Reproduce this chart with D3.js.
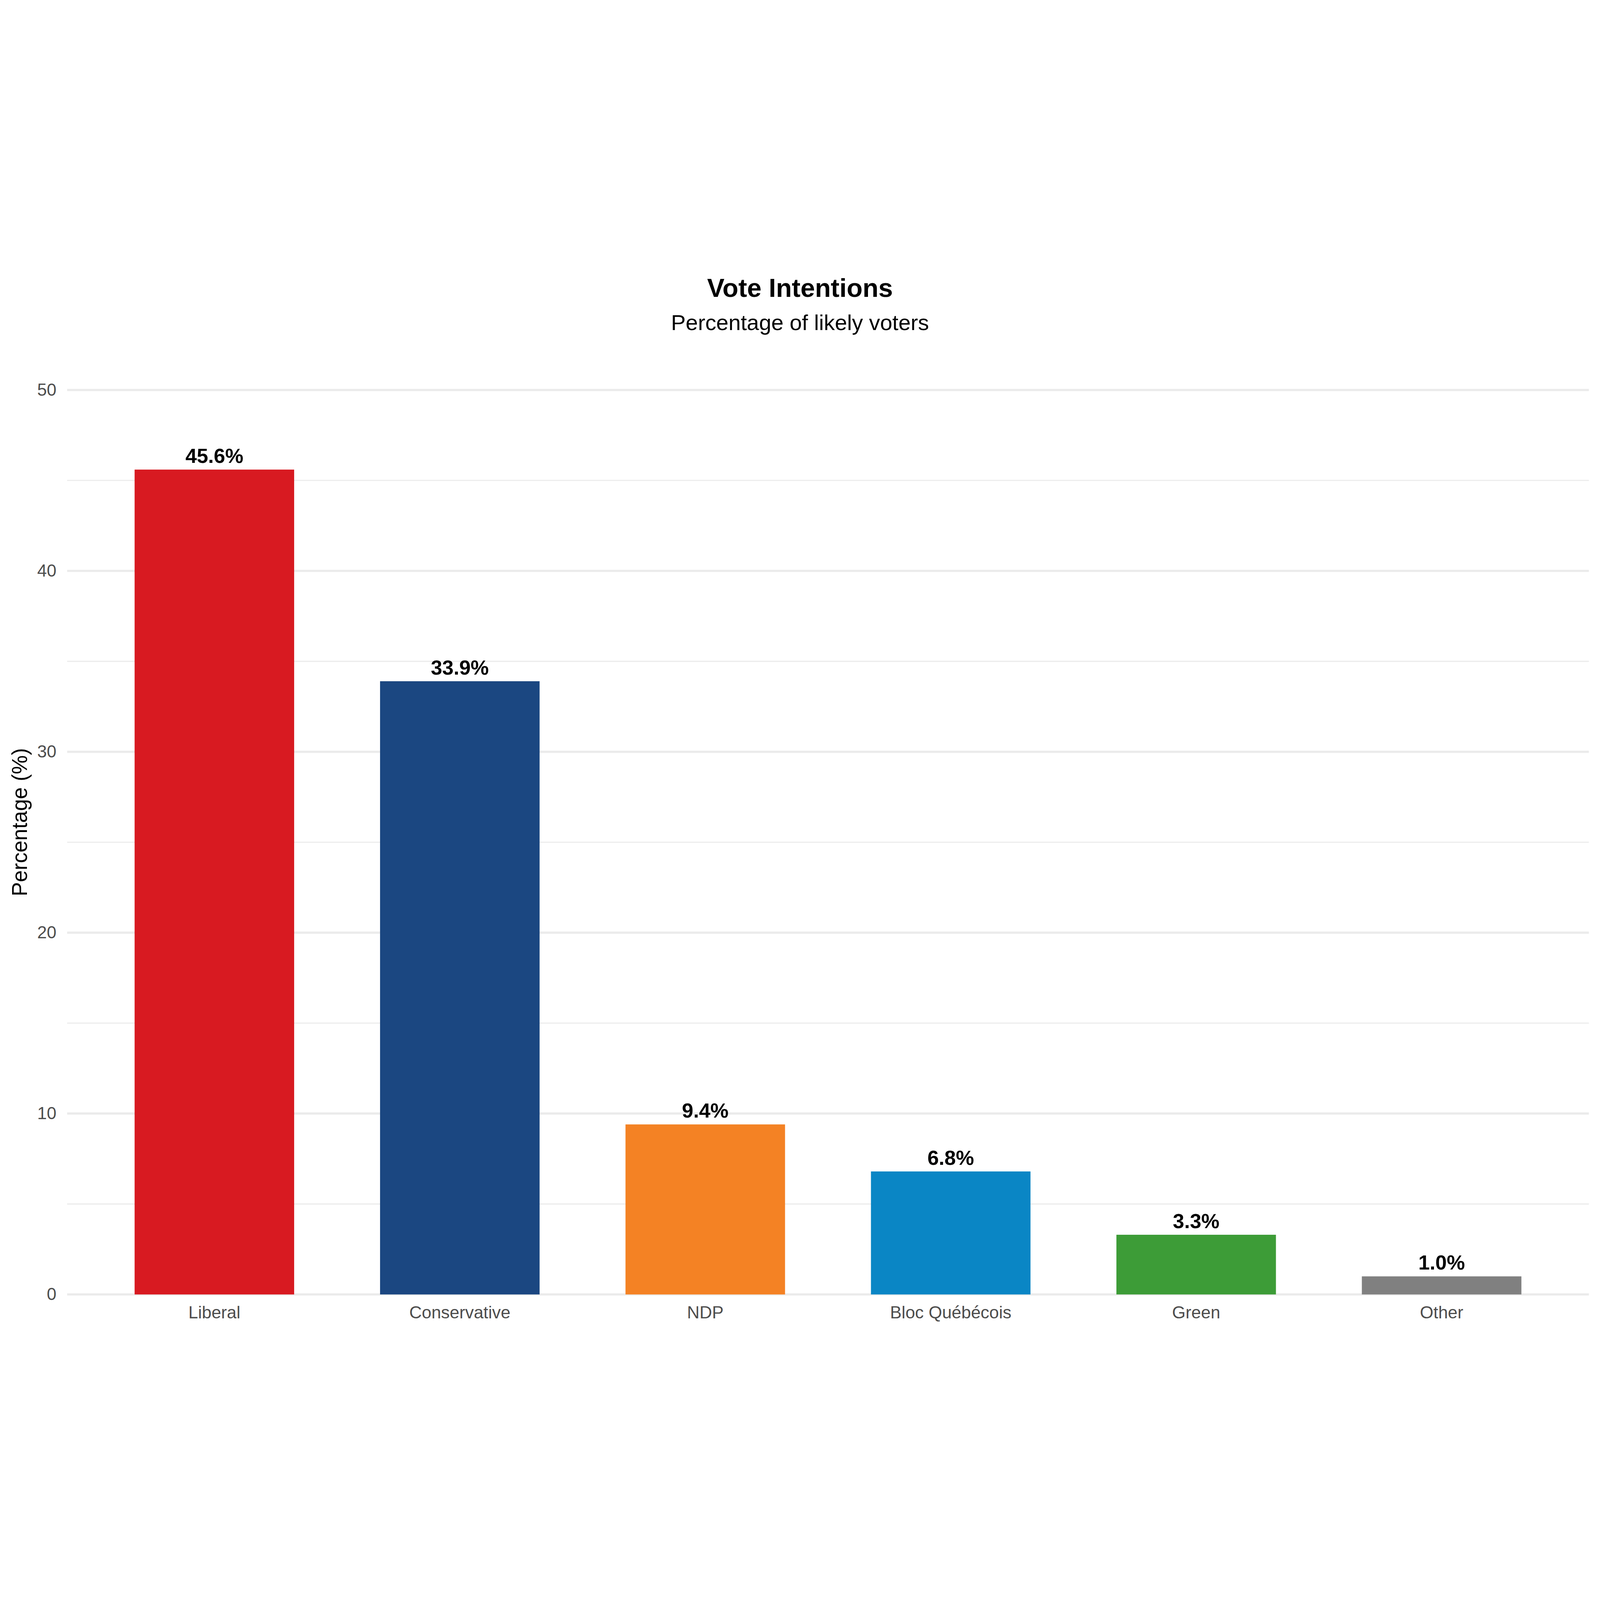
<!DOCTYPE html>
<html>
<head>
<meta charset="utf-8">
<script src="https://cdn.jsdelivr.net/npm/d3@7"></script>
<style>
  html, body { margin: 0; padding: 0; background: #fff; overflow: hidden; }
  svg { display: block; width: 100vw; height: 100vh; }
  text { font-family: "Liberation Sans", Arial, Helvetica, sans-serif; }
</style>
</head>
<body>
<div id="chart"></div>
<script>
// Chart data
const parties = ["Liberal", "Conservative", "NDP", "Bloc Québécois", "Green", "Other"];
const shares = [45.6, 33.9, 9.4, 6.8, 3.3, 1.0];
const partyColors = ["#d81a21", "#1b4781", "#f48224", "#0a86c5", "#3d9c37", "#808080"];
const majorTicks = [0, 10, 20, 30, 40, 50];
const minorTicks = [5, 15, 25, 35, 45];

const W = 7200, H = 4800;
const panel = { left: 302, right: 7150, top: 555, bottom: 4625 };

const svg = d3.select("#chart")
  .append("svg")
  .attr("viewBox", `0 0 ${W} ${H}`)
  .attr("preserveAspectRatio", "xMidYMid meet");

svg.append("rect").attr("width", W).attr("height", H).attr("fill", "#fff");

const data = parties.map((p, i) => ({ party: p, share: shares[i], color: partyColors[i] }));

const x = d3.scaleBand()
  .domain(parties)
  .range([panel.left, panel.right])
  .paddingInner(0.35)
  .paddingOuter(0.275);

const y = d3.scaleLinear()
  .domain([0, 50])
  .range([panel.bottom, panel.top]);

// gridlines
svg.append("g").selectAll("line")
  .data(minorTicks)
  .join("line")
  .attr("x1", panel.left).attr("x2", panel.right)
  .attr("y1", d => y(d)).attr("y2", d => y(d))
  .attr("stroke", "#ebebeb")
  .attr("stroke-width", 5);

svg.append("g").selectAll("line")
  .data(majorTicks)
  .join("line")
  .attr("x1", panel.left).attr("x2", panel.right)
  .attr("y1", d => y(d)).attr("y2", d => y(d))
  .attr("stroke", "#ebebeb")
  .attr("stroke-width", 10);

// bars
svg.append("g").selectAll("rect")
  .data(data)
  .join("rect")
  .attr("x", d => x(d.party))
  .attr("y", d => y(d.share))
  .attr("width", x.bandwidth())
  .attr("height", d => y(0) - y(d.share))
  .attr("fill", d => d.color);

// value labels
svg.append("g").selectAll("text")
  .data(data)
  .join("text")
  .attr("x", d => x(d.party) + x.bandwidth() / 2)
  .attr("y", d => y(d.share) - 30)
  .attr("text-anchor", "middle")
  .attr("font-size", 92)
  .attr("font-weight", "bold")
  .attr("fill", "#000")
  .text(d => d.share.toFixed(1) + "%");

// y axis
const yAxis = svg.append("g")
  .attr("transform", `translate(${panel.left},0)`)
  .call(d3.axisLeft(y).tickValues(majorTicks).tickSize(0).tickPadding(48));
yAxis.select(".domain").remove();
yAxis.selectAll("text")
  .attr("font-size", 78)
  .attr("fill", "#4d4d4d")
  .style("font-family", "'Liberation Sans', Arial, Helvetica, sans-serif");

// x axis
const xAxis = svg.append("g")
  .attr("transform", `translate(0,${panel.bottom})`)
  .call(d3.axisBottom(x).tickSize(0).tickPadding(52));
xAxis.select(".domain").remove();
xAxis.selectAll("text")
  .attr("font-size", 78)
  .attr("fill", "#4d4d4d")
  .style("font-family", "'Liberation Sans', Arial, Helvetica, sans-serif");

// y axis title
svg.append("text")
  .attr("transform", "translate(122,2500) rotate(-90)")
  .attr("text-anchor", "middle")
  .attr("font-size", 96)
  .attr("fill", "#000")
  .text("Percentage (%)");

// titles
svg.append("text")
  .attr("x", W / 2)
  .attr("y", 136)
  .attr("text-anchor", "middle")
  .attr("font-size", 117)
  .attr("font-weight", "bold")
  .attr("fill", "#000")
  .text("Vote Intentions");

svg.append("text")
  .attr("x", W / 2)
  .attr("y", 285)
  .attr("text-anchor", "middle")
  .attr("font-size", 99)
  .attr("fill", "#000")
  .text("Percentage of likely voters");
</script>
</body>
</html>
